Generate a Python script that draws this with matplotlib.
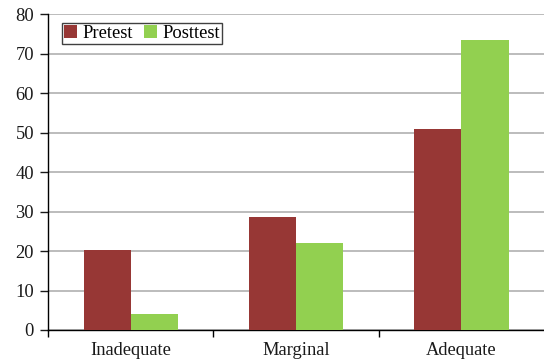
import matplotlib
matplotlib.use("Agg")
import matplotlib.pyplot as plt
import numpy as np

categories = ["Inadequate", "Marginal", "Adequate"]
pretest = [20.4, 28.6, 50.9]
posttest = [4.1, 22.1, 73.4]

plt.rcParams['font.family'] = ['Liberation Serif', 'DejaVu Serif']

fig = plt.figure(figsize=(5.44, 3.62), dpi=100)
ax = fig.add_axes([0.0882, 0.0884, 0.912, 0.872])

x = np.arange(len(categories))
w = 0.285
ax.bar(x - w/2, pretest, w, color="#973735", label="Pretest", zorder=3)
ax.bar(x + w/2, posttest, w, color="#92D050", label="Posttest", zorder=3)

ax.set_ylim(0, 80)
ax.set_yticks(range(0, 81, 10))
ax.set_xlim(-0.5, 2.5)
ax.set_xticks(x)
ax.set_xticklabels(categories)
ax.set_xticks([-0.5, 0.5, 1.5], minor=True)
ax.tick_params(axis='x', which='major', length=0, labelsize=13.3, pad=9, colors="#1a1a1a")
ax.tick_params(axis='x', which='minor', length=5, direction='out', width=1)
ax.tick_params(axis='y', length=6, direction='out', labelsize=13.3, width=1, pad=4, colors="#1a1a1a")
ax.yaxis.grid(True, color="#b0b0b0", linewidth=1.2, zorder=0)
for s in ["top", "right"]:
    ax.spines[s].set_visible(False)
ax.spines["left"].set_linewidth(1)
ax.spines["bottom"].set_linewidth(1)

leg = ax.legend(loc="upper left", bbox_to_anchor=(0.028, 0.974), ncol=2, fontsize=13.3,
                frameon=True, fancybox=False, edgecolor="#404040", framealpha=1,
                handlelength=0.7, handleheight=0.7, columnspacing=0.6, handletextpad=0.3,
                borderpad=0.12, borderaxespad=0)
leg.get_frame().set_linewidth(1)

fig.savefig("out.png", dpi=100)
